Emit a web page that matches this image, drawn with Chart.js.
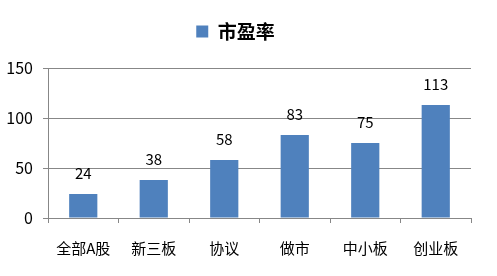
<!DOCTYPE html>
<html>
<head>
<meta charset="utf-8">
<script src="https://cdn.jsdelivr.net/npm/chart.js@4.4.0/dist/chart.umd.min.js"></script>
<style>
  html, body { margin: 0; padding: 0; background: #fff; }
  #wrap { width: 497px; height: 276px; }
</style>
</head>
<body>
<div id="wrap"><canvas id="chart1"></canvas></div>
<script>
const categories = ["全部A股", "新三板", "协议", "做市", "中小板", "创业板"];
const peValues = [24, 38, 58, 83, 75, 113];
const yTicks = [0, 50, 100, 150];

const FONT = "'Noto Sans CJK SC', 'Noto Sans', sans-serif";
const gridColor = "#878787";

// draws the number above each bar
const barLabels = {
  id: "barLabels",
  afterDatasetsDraw(chart) {
    const ctx = chart.ctx;
    const meta = chart.getDatasetMeta(0);
    ctx.save();
    ctx.font = "15px " + FONT;
    ctx.fillStyle = "#000";
    ctx.textAlign = "center";
    ctx.textBaseline = "middle";
    meta.data.forEach((bar, i) => {
      ctx.fillText(peValues[i], bar.x, bar.y - 21);
    });
    ctx.restore();
  },
};

// leave more room under the legend
const legendSpace = {
  id: "legendSpace",
  beforeInit(chart) {
    const fit = chart.legend.fit;
    chart.legend.fit = function () {
      fit.bind(chart.legend)();
      this.height += 17;
    };
  },
};

const canvas = document.getElementById("chart1");
new Chart(canvas, {
  type: "bar",
  data: {
    labels: categories,
    datasets: [
      {
        label: "市盈率",
        data: peValues,
        backgroundColor: "#4F81BD",
        barPercentage: 0.4,
        categoryPercentage: 1,
      },
    ],
  },
  options: {
    responsive: true,
    maintainAspectRatio: false,
    animation: false,
    layout: { padding: { top: 8, right: 26, left: 0, bottom: 0 } },
    plugins: {
      legend: {
        position: "top",
        labels: {
          boxWidth: 12,
          boxHeight: 12,
          color: "#000",
          font: { family: FONT, size: 19, weight: "bold" },
          padding: 14,
        },
      },
      tooltip: { enabled: false },
    },
    scales: {
      x: {
        grid: {
          display: true,
          drawOnChartArea: false,
          color: gridColor,
          tickLength: 5,
        },
        border: { color: gridColor },
        ticks: {
          color: "#000",
          font: { family: FONT, size: 15 },
          padding: 16,
          maxRotation: 0,
        },
        afterFit(scale) {
          scale.height = 58;
        },
      },
      y: {
        min: 0,
        max: 150,
        afterBuildTicks(scale) {
          scale.ticks = yTicks.map((v) => ({ value: v }));
        },
        grid: { color: gridColor, tickLength: 5 },
        border: { color: gridColor },
        ticks: {
          color: "#000",
          font: { family: FONT, size: 16 },
          padding: 10,
        },
        afterFit(scale) {
          scale.width = 48;
        },
      },
    },
  },
  plugins: [barLabels, legendSpace],
});
</script>
</body>
</html>
